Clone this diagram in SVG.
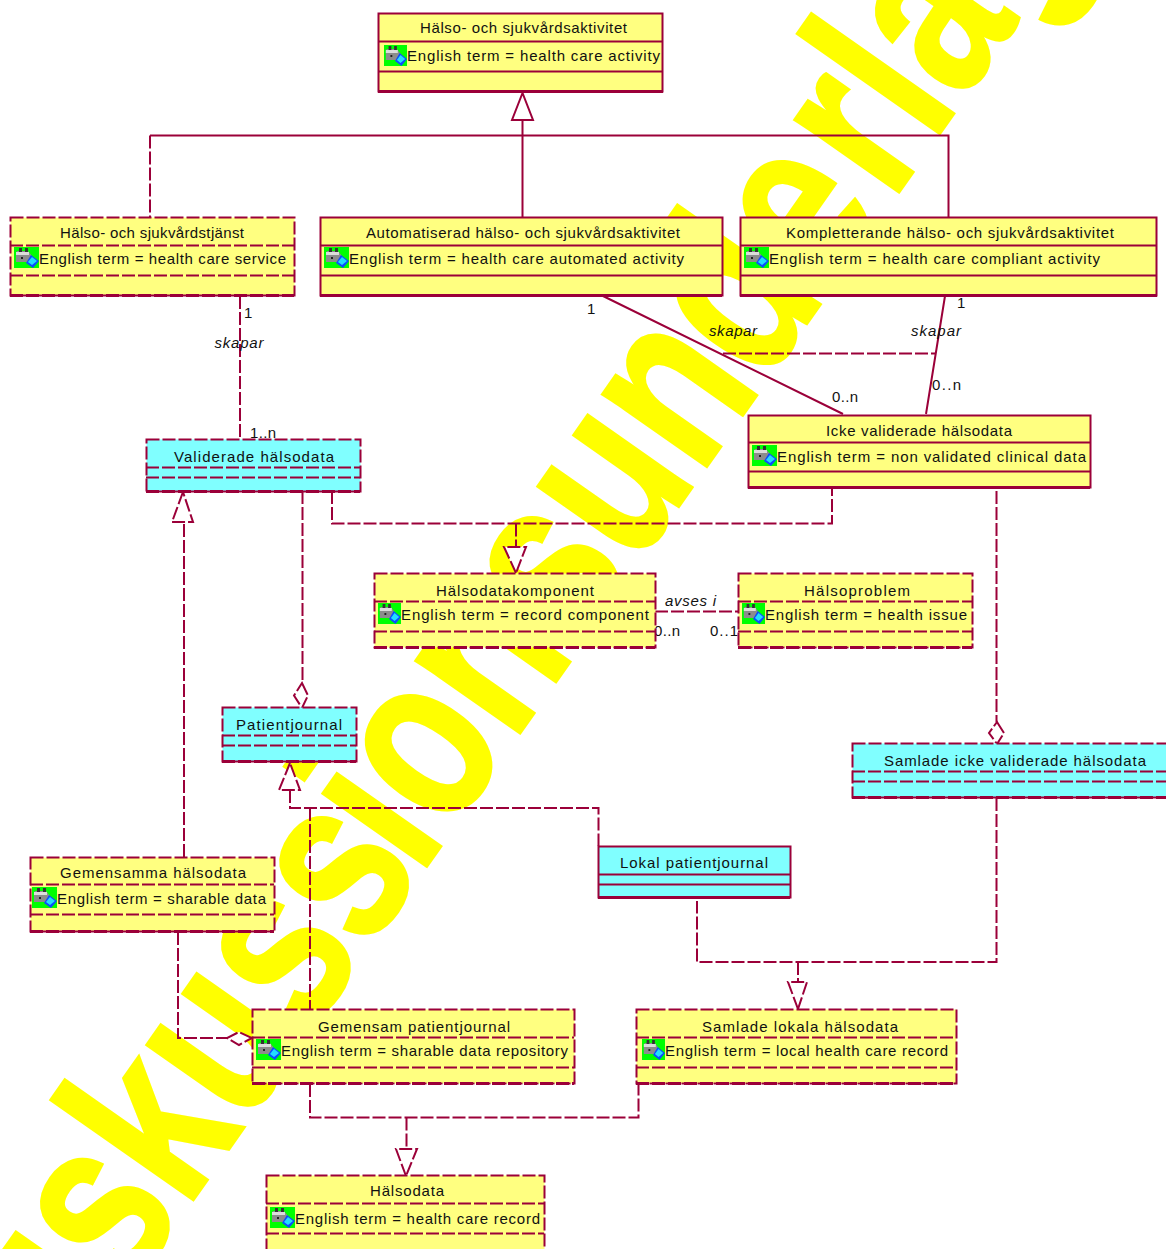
<svg xmlns="http://www.w3.org/2000/svg" width="1166" height="1249" viewBox="0 0 1166 1249">
<style>
text{font-family:"Liberation Sans",Arial,sans-serif;font-size:15px;fill:#111}
.i{font-style:italic}
.wm{font-size:240px;font-weight:bold;fill:#ffff00;stroke:#ffff00;stroke-width:3}
.y{fill:#ffff80}.c{fill:#80ffff}
.n{stroke:#9b0039;stroke-width:2}
.l{stroke:#9b0039;stroke-width:2;fill:none}
.a{stroke:#9b0039;stroke-width:2;fill:#fff}
.d{stroke-dasharray:13 3}
.b{stroke:#9b0039;stroke-width:3;fill:none}
</style>
<defs>
<symbol id="ic" viewBox="0 0 25 21" preserveAspectRatio="none">
<rect width="25" height="21" fill="#00ff00"/>
<path d="M3 4H14L18 9V15H2V6Z" fill="#8c8c8c"/>
<rect x="2" y="5" width="13" height="3" fill="#dcdcdc"/>
<rect x="5" y="1" width="3" height="4" fill="#333"/>
<rect x="11" y="1" width="3" height="4" fill="#333"/>
<rect x="7" y="10" width="2" height="2" fill="#222"/>
<path d="M17 8L25 14L19 21L12 16Z" fill="#0a4cff"/>
<path d="M18 10L23 14L18 18L14 15Z" fill="#22ddff"/>
</symbol>
</defs>
<g id="watermark"><text class="wm" transform="translate(22.4,1443.8) rotate(-55) scale(.7625,1)">Diskuss<tspan dx="-13">ionsunde</tspan><tspan dx="13">rlag</tspan></text></g>
<g id="connectors">
<path class="l" d="M522.500 120V217M150 135.500H948.500V217"/>
<path class="l d" d="M150 135.500V217"/>
<path class="a" d="M522.500 93L512 120H533Z"/>
<path class="l d" d="M240 296V439"/>
<path class="l" d="M603 296L843 414M945 296L926 414"/>
<path class="l d" d="M723 353.500H935"/>
<path class="l d" d="M332 491V523.500H832V488M516 523.500V547"/>
<path class="a d" d="M516 573L504 547H526Z"/>
<path class="l d" d="M302.500 491V683"/>
<path class="a d" d="M302 683L308 695.500L302 708L294 695.500Z"/>
<path class="l d" d="M184 857V522"/>
<path class="a d" d="M183 492L172 522H193Z"/>
<path class="l d" d="M290 790V808H598.500V846M310 808V1010"/>
<path class="a d" d="M290 763L279 790H300Z"/>
<path class="l d" d="M996.500 491V722"/>
<path class="a d" d="M997 722L1004 733L997 744L989 733Z"/>
<path class="l d" d="M996.500 798V962H697V901M798 962V981"/>
<path class="a d" d="M798 1009L788 982H807Z"/>
<path class="l d" d="M178 932V1038H227"/>
<path class="a d" d="M252 1038L239 1032L227 1038L239 1045Z"/>
<path class="l d" d="M310 1084V1117.500H638.500V1084M406.500 1117.500V1149"/>
<path class="a d" d="M406 1176L396 1149H417Z"/>
<path class="l d" d="M655 611.500H738"/>
<text x="244" y="318">1</text>
<text class="i" x="214.500" y="348" textLength="49">skapar</text>
<text x="250" y="438" textLength="26">1..n</text>
<text x="587" y="314">1</text>
<text x="832" y="402" textLength="26">0..n</text>
<text x="957" y="308">1</text>
<text class="i" x="911" y="336" textLength="50">skapar</text>
<text x="932" y="390" textLength="29">0..n</text>
<text class="i" x="709" y="336" textLength="48">skapar</text>
<text class="i" x="665" y="606" textLength="51">avses i</text>
<text x="654" y="636" textLength="26">0..n</text>
<text x="710" y="636" textLength="28">0..1</text>
</g>
<g id="n1"><rect class="n y" x="378.500" y="13.500" width="284" height="78"/><path class="l" d="M378 41.500H663M378 71.500H663"/><path class="b" d="M378 91.500H663"/><text x="420" y="33" textLength="207">Hälso- och sjukvårdsaktivitet</text><use href="#ic" x="384" y="45" width="23" height="21"/><text x="407" y="61" textLength="253">English term = health care activity</text></g>
<g id="n2"><rect class="n y d" x="10.500" y="217.500" width="284" height="78"/><path class="l d" d="M10 245.500H294M10 275.500H294"/><path class="b d" d="M10 295.500H294"/><text x="60" y="238" textLength="184">Hälso- och sjukvårdstjänst</text><use href="#ic" x="14" y="247" width="25" height="21"/><text x="39" y="264" textLength="247">English term = health care service</text></g>
<g id="n3"><rect class="n y" x="320.500" y="217.500" width="402" height="78"/><path class="l" d="M320 245.500H722M320 275.500H722"/><path class="b" d="M320 295.500H722"/><text x="366" y="238" textLength="314">Automatiserad hälso- och sjukvårdsaktivitet</text><use href="#ic" x="324" y="247" width="25" height="21"/><text x="349" y="264" textLength="335">English term = health care automated activity</text></g>
<g id="n4"><rect class="n y" x="740.500" y="217.500" width="416" height="78"/><path class="l" d="M740 245.500H1157M740 275.500H1157"/><path class="b" d="M740 295.500H1157"/><text x="786" y="238" textLength="328">Kompletterande hälso- och sjukvårdsaktivitet</text><use href="#ic" x="744" y="247" width="25" height="21"/><text x="769" y="264" textLength="331">English term = health care compliant activity</text></g>
<g id="n5"><rect class="n c d" x="146.500" y="439.500" width="214" height="52"/><path class="l d" d="M146 467.500H360M146 477.500H360"/><path class="b d" d="M146 491.500H360"/><text x="174" y="462" textLength="160">Validerade hälsodata</text></g>
<g id="n6"><rect class="n y" x="748.500" y="415.500" width="342" height="72"/><path class="l" d="M748 442.500H1090M748 471.500H1090"/><path class="b" d="M748 487.500H1090"/><text x="826" y="436" textLength="186">Icke validerade hälsodata</text><use href="#ic" x="752" y="445" width="25" height="21"/><text x="777" y="462" textLength="309">English term = non validated clinical data</text></g>
<g id="n7"><rect class="n y d" x="374.500" y="573.500" width="281" height="74"/><path class="l d" d="M374 601.500H655M374 631.500H655"/><path class="b d" d="M374 647.500H655"/><text x="436" y="596" textLength="158">Hälsodatakomponent</text><use href="#ic" x="378" y="603" width="23" height="21"/><text x="401" y="620" textLength="248">English term = record component</text></g>
<g id="n8"><rect class="n y d" x="738.500" y="573.500" width="234" height="74"/><path class="l d" d="M738 601.500H972M738 631.500H972"/><path class="b d" d="M738 647.500H972"/><text x="804" y="596" textLength="106">Hälsoproblem</text><use href="#ic" x="742" y="603" width="23" height="21"/><text x="765" y="620" textLength="202">English term = health issue</text></g>
<g id="n9"><rect class="n c d" x="222.500" y="707.500" width="134" height="54"/><path class="l d" d="M222 735.500H356M222 745.500H356"/><path class="b d" d="M222 761.500H356"/><text x="236" y="730" textLength="106">Patientjournal</text></g>
<g id="n10"><rect class="n c d" x="852.500" y="743.500" width="318" height="54"/><path class="l d" d="M852 771.500H1170M852 781.500H1170"/><path class="b d" d="M852 797.500H1170"/><text x="884" y="766" textLength="262">Samlade icke validerade hälsodata</text></g>
<g id="n11"><rect class="n c" x="598.500" y="846.500" width="192" height="51"/><path class="l" d="M598 874.500H790M598 884.500H790"/><path class="b" d="M598 897.500H790"/><text x="620" y="868" textLength="148">Lokal patientjournal</text></g>
<g id="n12"><rect class="n y d" x="30.500" y="857.500" width="244" height="74"/><path class="l d" d="M30 884.500H274M30 914.500H274"/><path class="b d" d="M30 931.500H274"/><text x="60" y="878" textLength="186">Gemensamma hälsodata</text><use href="#ic" x="32" y="887" width="25" height="21"/><text x="57" y="904" textLength="209">English term = sharable data</text></g>
<g id="n13"><rect class="n y d" x="252.500" y="1009.500" width="322" height="74"/><path class="l d" d="M252 1037.500H574M252 1067.500H574"/><path class="b d" d="M252 1083.500H574"/><text x="318" y="1032" textLength="192">Gemensam patientjournal</text><use href="#ic" x="256" y="1039" width="25" height="21"/><text x="281" y="1056" textLength="287">English term = sharable data repository</text></g>
<g id="n14"><rect class="n y d" x="636.500" y="1009.500" width="320" height="74"/><path class="l d" d="M636 1037.500H956M636 1067.500H956"/><path class="b d" d="M636 1083.500H956"/><text x="702" y="1032" textLength="196">Samlade lokala hälsodata</text><use href="#ic" x="642" y="1039" width="23" height="21"/><text x="665" y="1056" textLength="283">English term = local health care record</text></g>
<g id="n15"><rect class="n y d" x="266.500" y="1175.500" width="278" height="80"/><path class="l d" d="M266 1203.500H544M266 1233.500H544"/><text x="370" y="1196" textLength="74">Hälsodata</text><use href="#ic" x="270" y="1207" width="25" height="21"/><text x="295" y="1224" textLength="245">English term = health care record</text></g>
</svg>
